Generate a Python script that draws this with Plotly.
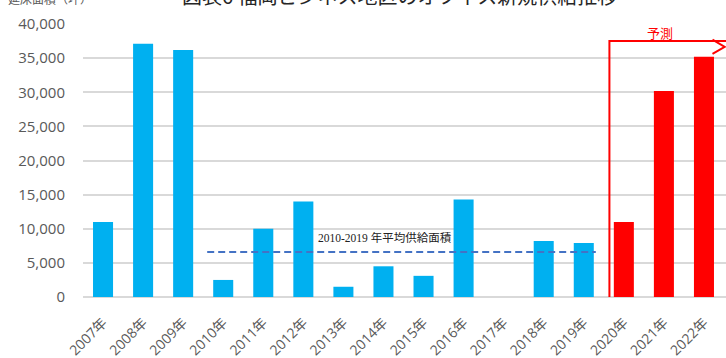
import plotly.graph_objects as go

years = list(range(2007, 2023))
tick_labels = [f"{y}年" for y in years]
supply = [11000, 37100, 36200, 2500, 10000, 14000, 1500, 4500, 3100, 14300, 0, 8200, 7900, 11000, 30200, 35200]
forecast_start = 2020
avg_years = (2010, 2019)

colors = ["#FF0000" if y >= forecast_start else "#00B0F0" for y in years]
avg_vals = [v for y, v in zip(years, supply) if avg_years[0] <= y <= avg_years[1]]
avg = sum(avg_vals) / len(avg_vals)

fig = go.Figure()
fig.add_trace(go.Bar(
    x=years, y=supply, width=0.5,
    marker=dict(color=colors, line=dict(width=0)),
    hoverinfo="skip",
))

# average dashed line
fig.add_shape(type="line", xref="x", yref="y",
              x0=avg_years[0] - 0.4, x1=avg_years[1] + 0.3, y0=avg, y1=avg,
              line=dict(color="#4472C4", width=2, dash="7px,4px"))
fig.add_annotation(x=(avg_years[0] + avg_years[1]) / 2 - 0.45, y=avg + 2100, xref="x", yref="y",
                   text="2010-2019 年平均供給面積", showarrow=False,
                   font=dict(family="Liberation Serif, Noto Sans CJK JP", size=11.5, color="#222222"))

# forecast bracket
bx = forecast_start - 0.36
btop = 37500
fig.add_shape(type="path", xref="x", yref="y",
              path=f"M {bx},0 L {bx},{btop} L 2022.55,{btop}",
              line=dict(color="#FF0000", width=2))
fig.add_shape(type="path", xref="paper", yref="paper",
              path="M 0.979,0.9425 L 0.998,0.9165 L 0.979,0.8905",
              line=dict(color="#FF0000", width=2))
fig.add_annotation(x=forecast_start + 0.9, y=btop + 1300, xref="x", yref="y",
                   text="予測", showarrow=False,
                   font=dict(family="Noto Sans CJK JP", size=13, color="#FF0000"))

# title & axis title (partially cut at top, as in the original)
fig.add_annotation(x=0.493, y=1.105, xref="paper", yref="paper",
                   text="図表6 福岡ビジネス地区のオフィス新規供給推移", showarrow=False,
                   xanchor="center", yanchor="middle",
                   font=dict(family="Noto Sans CJK JP", size=20, color="#262626"))
fig.add_annotation(x=-0.051, y=1.095, xref="paper", yref="paper",
                   text="延床面積（坪）", showarrow=False,
                   xanchor="center", yanchor="middle",
                   font=dict(family="Noto Sans CJK JP", size=12, color="#595959"))

fig.update_layout(
    width=726, height=358,
    margin=dict(l=83, r=0, t=24, b=61),
    plot_bgcolor="white", paper_bgcolor="white",
    showlegend=False,
    font=dict(family="Open Sans, Noto Sans CJK JP", color="#595959"),
)
fig.update_xaxes(
    tickmode="array", tickvals=years, ticktext=tick_labels,
    range=[2006.5, 2022.55], tickangle=-45,
    tickfont=dict(size=14, color="#595959"),
    showgrid=False, zeroline=False, showline=False,
    ticks="outside", ticklen=11, tickcolor="rgba(0,0,0,0)",
)
fig.update_yaxes(
    range=[0, 40000], dtick=5000, tickformat=",d",
    tickfont=dict(size=15, color="#595959"),
    showgrid=True, gridcolor="#D9D9D9", gridwidth=1.5,
    zeroline=True, zerolinecolor="#D9D9D9", zerolinewidth=1.5,
    ticks="outside", ticklen=14, tickcolor="rgba(0,0,0,0)",
)

fig.write_html("out.html")
